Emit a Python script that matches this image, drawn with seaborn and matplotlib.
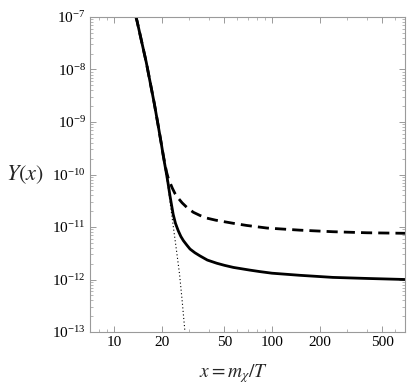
import numpy as np
import pandas as pd
import matplotlib
matplotlib.use("Agg")
import matplotlib.pyplot as plt
import matplotlib.ticker as mticker
import seaborn as sns

# Values (log10 of Y)
x_eq = [12, 14, 16, 18, 20, 21, 22, 23, 24, 25, 26, 27, 28, 29]
logy_eq = [-6.31, -7.08, -7.86, -8.65, -9.45, -9.85, -10.25, -10.68, -11.10, -11.50,
           -11.90, -12.40, -12.93, -13.4]

x_solid = [12, 14, 16, 18, 19, 20, 20.5, 21, 21.5, 22, 22.6, 23.2, 23.7, 24.5, 25.5,
           26.5, 27.5, 29, 30.3, 32.5, 35, 39, 44.7, 50, 57, 72, 84, 100, 150, 243,
           400, 700]
logy_solid = [-6.31, -7.08, -7.86, -8.65, -9.05, -9.44, -9.64, -9.82, -9.99, -10.17,
              -10.40, -10.60, -10.76, -10.93, -11.07, -11.18, -11.26, -11.35, -11.42,
              -11.49, -11.55, -11.63, -11.69, -11.73, -11.77, -11.82, -11.85, -11.88,
              -11.92, -11.96, -11.98, -12.0]

x_dash = [12, 14, 16, 18, 19, 20, 20.5, 21, 21.5, 22, 22.6, 23.4, 24.3, 25.5, 27, 29,
          31.8, 35, 38.6, 44, 50, 57, 69, 93, 150, 243, 400, 700]
logy_dash = [-6.31, -7.08, -7.86, -8.65, -9.05, -9.44, -9.63, -9.80, -9.95, -10.06,
             -10.15, -10.26, -10.36, -10.45, -10.54, -10.63, -10.72, -10.78, -10.83,
             -10.87, -10.90, -10.93, -10.97, -11.02, -11.06, -11.09, -11.11, -11.12]

x_ticks = [10, 20, 50, 100, 200, 500]

sns.set_style("ticks")
plt.rcParams["font.family"] = ["Liberation Serif", "DejaVu Serif"]
plt.rcParams["mathtext.fontset"] = "stix"

fig = plt.figure(figsize=(4.15, 3.85), dpi=100)
ax = fig.add_axes([90 / 415, 1 - 332 / 385, 315 / 415, 315 / 385])

eq = pd.DataFrame({"x": x_eq, "Y": 10.0 ** np.array(logy_eq)})
solid = pd.DataFrame({"x": x_solid, "Y": 10.0 ** np.array(logy_solid)})
dash = pd.DataFrame({"x": x_dash, "Y": 10.0 ** np.array(logy_dash)})

sns.lineplot(data=eq, x="x", y="Y", ax=ax, color="black", lw=0.8,
             linestyle=(0, (1, 2.2)), sort=False)
sns.lineplot(data=dash, x="x", y="Y", ax=ax, color="black", lw=2.0,
             linestyle=(0, (4, 2.2)), sort=False)
sns.lineplot(data=solid, x="x", y="Y", ax=ax, color="black", lw=2.0, sort=False)

ax.set_xscale("log")
ax.set_yscale("log")
ax.set_xlim(7.05, 695)
ax.set_ylim(1e-13, 1e-7)

ax.xaxis.set_major_locator(mticker.FixedLocator(x_ticks))
ax.xaxis.set_major_formatter(mticker.FixedFormatter([str(t) for t in x_ticks]))
ax.xaxis.set_minor_locator(mticker.FixedLocator(
    [m * 10 ** k for k in range(0, 3) for m in range(2, 10) if 7 <= m * 10 ** k <= 700]))
ax.xaxis.set_minor_formatter(mticker.NullFormatter())
ax.yaxis.set_major_locator(mticker.FixedLocator([10.0 ** k for k in range(-13, -6)]))
ax.yaxis.set_major_formatter(mticker.LogFormatterSciNotation())
ax.yaxis.set_minor_locator(mticker.FixedLocator(
    [m * 10.0 ** k for k in range(-13, -7) for m in range(2, 10)]))
ax.yaxis.set_minor_formatter(mticker.NullFormatter())

for s in ax.spines.values():
    s.set_color("#9a9a9a")
    s.set_linewidth(0.8)
ax.tick_params(which="both", direction="in", top=True, right=True, color="#9a9a9a",
               labelsize=11, labelcolor="black", pad=3)
ax.tick_params(which="major", length=4, width=0.7)
ax.tick_params(which="minor", length=2, width=0.5)

ax.set_xlabel(r"$x = m_\chi/T$", fontsize=14)
ax.set_ylabel(r"$Y(x)$", fontsize=16, rotation=0, ha="center", va="center")
ax.xaxis.set_label_coords(0.457, -0.095)
ax.yaxis.set_label_coords(-0.206, 0.5)

fig.savefig("out.png", dpi=100)
